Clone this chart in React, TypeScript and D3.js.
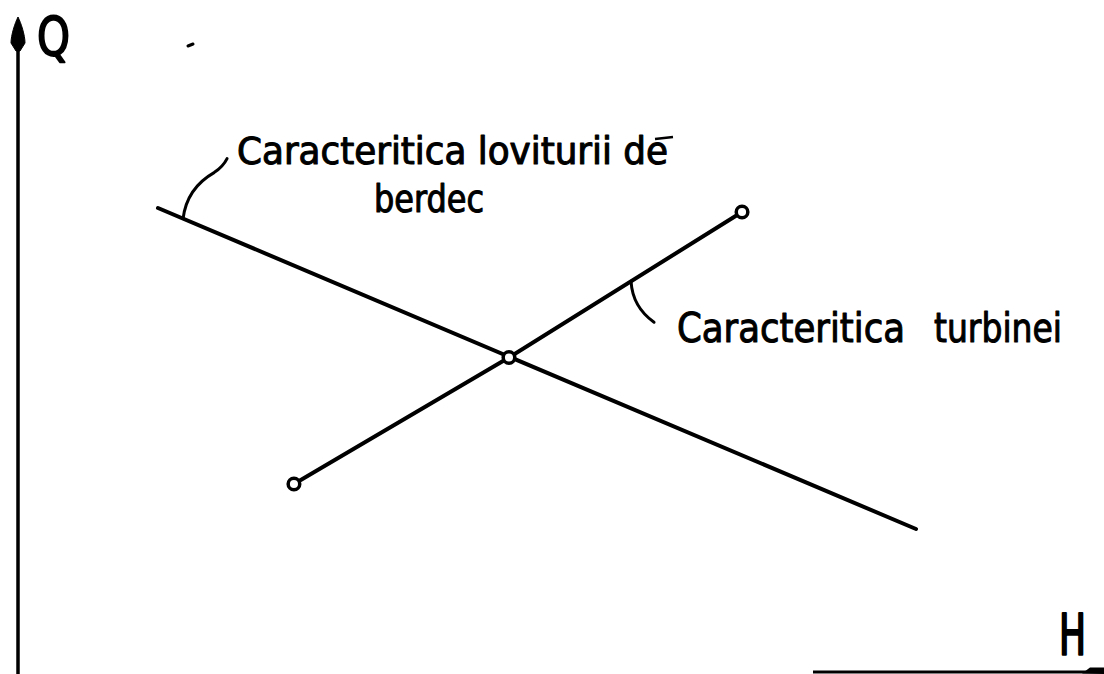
import React from "react";
import * as d3 from "d3";

// Data (H on x, Q on y, arbitrary units 0..100)
const waterHammerLine = [
  { h: 12.89, q: 70.84 },
  { h: 82.69, q: 21.83 },
];
const turbineLine = [
  { h: 25.41, q: 28.7 },
  { h: 45.21, q: 48.02 },
  { h: 66.67, q: 70.23 },
];
const markers = [
  { h: 25.41, q: 28.7 },
  { h: 45.21, q: 48.02 },
  { h: 66.67, q: 70.23 },
];
const axisLabels = { x: "H", y: "Q" };
const labelHammer = ["Caracteritica loviturii de", "berdec"];
const labelTurbine = ["Caracteritica", "turbinei"];

const W = 1104;
const H = 674;
const FONT = "'DejaVu Sans Condensed', 'Liberation Sans Narrow', 'DejaVu Sans', sans-serif";

export default function App() {
  const x = d3.scaleLinear().domain([0, 100]).range([18, 1104]);
  const y = d3.scaleLinear().domain([0, 100]).range([672, 17]);
  const line = d3
    .line<{ h: number; q: number }>()
    .x((d) => x(d.h))
    .y((d) => y(d.q));

  // leader anchor points on the curves
  const hammerAnchorH = 15.2;
  const hammerAnchorQ =
    waterHammerLine[0].q +
    ((hammerAnchorH - waterHammerLine[0].h) / (waterHammerLine[1].h - waterHammerLine[0].h)) *
      (waterHammerLine[1].q - waterHammerLine[0].q);
  const ha = [x(hammerAnchorH), y(hammerAnchorQ)];

  const turbAnchorH = 56.45;
  const t1 = turbineLine[1];
  const t2 = turbineLine[2];
  const turbAnchorQ = t1.q + ((turbAnchorH - t1.h) / (t2.h - t1.h)) * (t2.q - t1.q);
  const ta = [x(turbAnchorH), y(turbAnchorQ)];

  const hammerLeader = `M${ha[0]},${ha[1]} C${ha[0] + 3},${ha[1] - 24} ${ha[0] + 17},${ha[1] - 38} ${ha[0] + 31},${ha[1] - 46} C${ha[0] + 37},${ha[1] - 50} ${ha[0] + 41},${ha[1] - 54} ${ha[0] + 44},${ha[1] - 60}`;
  const turbLeader = `M${ta[0]},${ta[1]} C${ta[0] + 1},${ta[1] + 18} ${ta[0] + 9},${ta[1] + 31} ${ta[0] + 23},${ta[1] + 41}`;

  const ax = x(0);
  const at = y(100);

  const textStyle = { stroke: "#000", strokeWidth: 1, strokeLinejoin: "round" as const };

  return (
    <svg
      width={W}
      height={H}
      style={{ position: "absolute", left: 0, top: 0, background: "#fff" }}
    >
      <rect x={0} y={0} width={W} height={H} fill="#fff" />
      {/* Y axis */}
      <line x1={ax} y1={at + 20} x2={ax} y2={H} stroke="#000" strokeWidth={3.5} />
      <path
        d={`M${ax},${at} C${ax + 3},${at + 6} ${ax + 7},${at + 18} ${ax + 7},${at + 26} L${ax + 2},${at + 34} L${ax - 2},${at + 34} L${ax - 7},${at + 26} C${ax - 7},${at + 18} ${ax - 3},${at + 6} ${ax},${at} Z`}
        fill="#000"
        stroke="#000"
        strokeWidth={1}
        strokeLinejoin="round"
      />
      <text x={37} y={55} fontFamily={FONT} fontSize={54} fill="#000" {...textStyle} strokeWidth={1.8}
        textLength={33} lengthAdjust="spacingAndGlyphs">
        {axisLabels.y}
      </text>
      {/* X axis */}
      <line x1={813} y1={y(0)} x2={W} y2={y(0)} stroke="#000" strokeWidth={3} />
      <path d={`M1082,${y(0) + 1.5} L1090,${y(0) - 4.5} L1104,${y(0) - 4.5} L1104,${y(0) + 2} Z`} fill="#000" />
      <text
        x={1059}
        y={655}
        fontFamily={FONT}
        fontSize={57}
        fill="#000"
        {...textStyle}
        strokeWidth={2.2}
        textLength={27}
        lengthAdjust="spacingAndGlyphs"
      >
        {axisLabels.x}
      </text>
      {/* small stray mark */}
      <path d="M188,46 L193,44" stroke="#000" strokeWidth={3} strokeLinecap="round" />

      {/* Curves */}
      <path d={line(waterHammerLine) || ""} fill="none" stroke="#000" strokeWidth={4} strokeLinecap="round" />
      <path d={line(turbineLine) || ""} fill="none" stroke="#000" strokeWidth={4} strokeLinecap="round" />
      {markers.map((d, i) => (
        <circle key={i} cx={x(d.h)} cy={y(d.q)} r={5.8} fill="#fff" stroke="#000" strokeWidth={3.5} />
      ))}

      {/* Leaders */}
      <path d={hammerLeader} fill="none" stroke="#000" strokeWidth={3} strokeLinecap="round" />
      <path d={turbLeader} fill="none" stroke="#000" strokeWidth={3} strokeLinecap="round" />

      {/* Labels */}
      <text
        x={237}
        y={164}
        fontFamily={FONT}
        fontSize={37}
        fill="#000"
        {...textStyle}
        textLength={431}
        lengthAdjust="spacingAndGlyphs"
      >
        {labelHammer[0]}
      </text>
      <path d="M655,139 L673,137" stroke="#000" strokeWidth={2.5} />
      <text
        x={374}
        y={212}
        fontFamily={FONT}
        fontSize={37}
        fill="#000"
        {...textStyle}
        textLength={110}
        lengthAdjust="spacingAndGlyphs"
      >
        {labelHammer[1]}
      </text>
      <text
        x={677}
        y={342}
        fontFamily={FONT}
        fontSize={41}
        fill="#000"
        {...textStyle}
        textLength={228}
        lengthAdjust="spacingAndGlyphs"
      >
        {labelTurbine[0]}
      </text>
      <text
        x={934}
        y={342}
        fontFamily={FONT}
        fontSize={41}
        fill="#000"
        {...textStyle}
        textLength={128}
        lengthAdjust="spacingAndGlyphs"
      >
        {labelTurbine[1]}
      </text>
    </svg>
  );
}
